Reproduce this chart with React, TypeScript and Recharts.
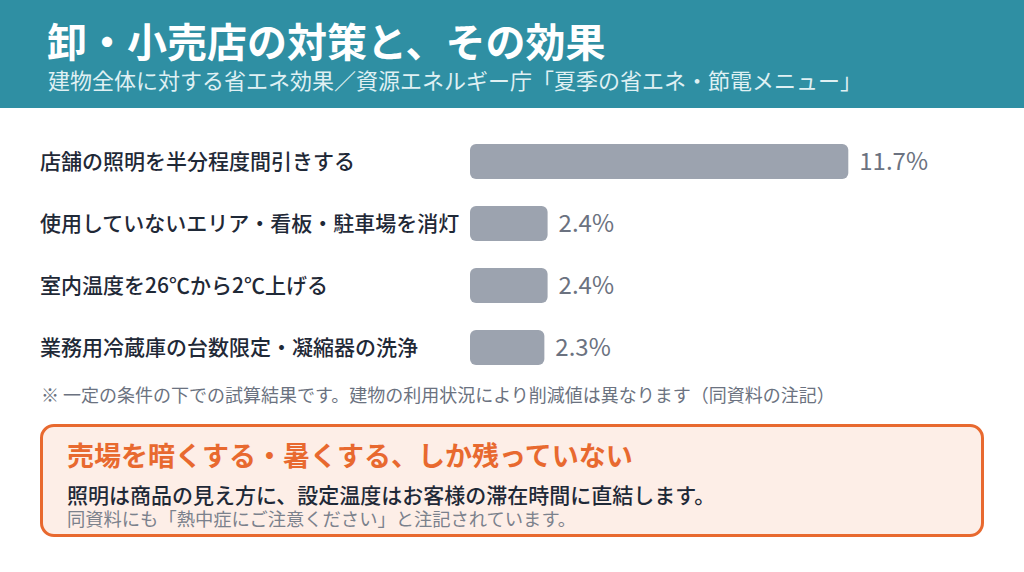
import React from "react";
import { BarChart, Bar, XAxis, YAxis, LabelList } from "recharts";

const categories = [
  "店舗の照明を半分程度間引きする",
  "使用していないエリア・看板・駐車場を消灯",
  "室内温度を26℃から2℃上げる",
  "業務用冷蔵庫の台数限定・凝縮器の洗浄",
];
const savings = [11.7, 2.4, 2.4, 2.3];

const titleText = "卸・小売店の対策と、その効果";
const subtitleText = "建物全体に対する省エネ効果／資源エネルギー庁「夏季の省エネ・節電メニュー」";
const noteText = "※ 一定の条件の下での試算結果です。建物の利用状況により削減値は異なります（同資料の注記）";
const calloutHead = "売場を暗くする・暑くする、しか残っていない";
const calloutBody = "照明は商品の見え方に、設定温度はお客様の滞在時間に直結します。";
const calloutSub = "同資料にも「熱中症にご注意ください」と注記されています。";

const data = categories.map((name, i) => ({ name, value: savings[i] }));

const FONT = '"Noto Sans CJK JP", "Noto Sans", sans-serif';

const CategoryTick = (props: any) => {
  const { y, payload } = props;
  return (
    <text x={40} y={y} dy="0.36em" textAnchor="start" fill="#1f2937" fontSize={21} fontWeight={500} fontFamily={FONT}>
      {payload.value}
    </text>
  );
};

export default function App() {
  return (
    <div style={{ position: "fixed", left: 0, top: 0, width: 1024, height: 572, background: "#ffffff", fontFamily: FONT, overflow: "hidden" }}>
      <div style={{ position: "absolute", left: 0, top: 0, width: 1024, height: 108, background: "#2f8fa3" }} />
      <div style={{ position: "absolute", left: 47, top: 18, fontSize: 40, lineHeight: "44px", fontWeight: 700, color: "#ffffff", whiteSpace: "nowrap" }}>
        {titleText}
      </div>
      <div style={{ position: "absolute", left: 48, top: 67, fontSize: 22, lineHeight: "24px", fontWeight: 400, color: "#dff0f3", whiteSpace: "nowrap" }}>
        {subtitleText}
      </div>

      <div style={{ position: "absolute", left: 0, top: 130 }}>
        <BarChart
          width={1024}
          height={248}
          data={data}
          layout="vertical"
          margin={{ top: 0, right: 69, bottom: 0, left: 0 }}
          barSize={35}
        >
          <XAxis type="number" domain={[0, 15]} hide />
          <YAxis type="category" dataKey="name" width={470} axisLine={false} tickLine={false} tick={<CategoryTick />} />
          <Bar dataKey="value" fill="#9ca3af" radius={[6, 6, 6, 6]} isAnimationActive={false}>
            <LabelList
              dataKey="value"
              position="right"
              offset={11}
              formatter={(v: any) => `${Number(v).toFixed(1)}%`}
              style={{ fill: "#6b7280", fontSize: 24, fontWeight: 400, fontFamily: FONT }}
            />
          </Bar>
        </BarChart>
      </div>

      <div style={{ position: "absolute", left: 41, top: 381, fontSize: 18, lineHeight: "26px", color: "#6b7280", whiteSpace: "nowrap" }}>
        {noteText}
      </div>

      <div
        style={{
          position: "absolute",
          left: 40,
          top: 424,
          width: 944,
          height: 113,
          boxSizing: "border-box",
          border: "3px solid #e8692f",
          borderRadius: 14,
          background: "#fdeee7",
        }}
      />
      <div style={{ position: "absolute", left: 67, top: 438, fontSize: 27, lineHeight: "34px", fontWeight: 700, color: "#e8692f", whiteSpace: "nowrap" }}>
        {calloutHead}
      </div>
      <div style={{ position: "absolute", left: 67, top: 483, fontSize: 21, lineHeight: "22px", fontWeight: 500, color: "#1f2937", whiteSpace: "nowrap" }}>
        {calloutBody}
      </div>
      <div style={{ position: "absolute", left: 67, top: 508, fontSize: 18.3, lineHeight: "20px", fontWeight: 400, color: "#7b818c", whiteSpace: "nowrap" }}>
        {calloutSub}
      </div>
    </div>
  );
}
